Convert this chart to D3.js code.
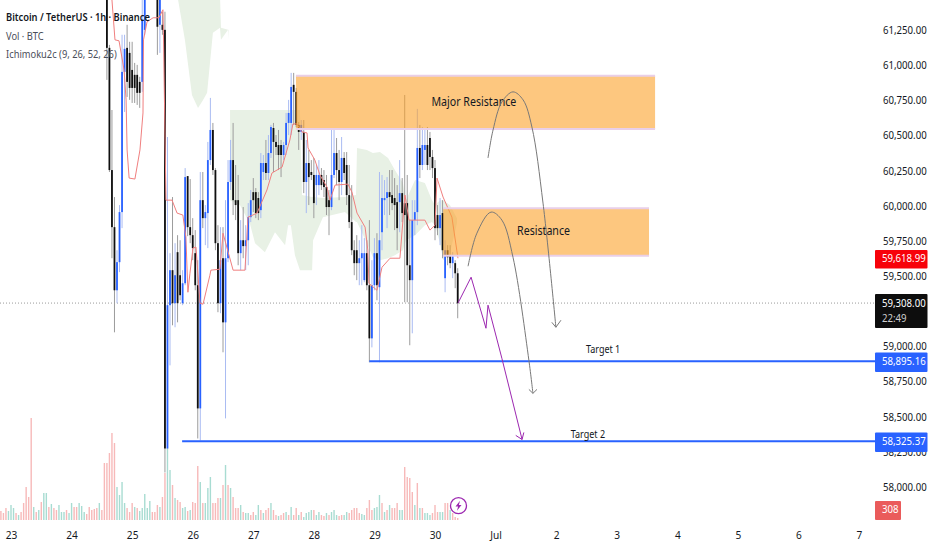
<!DOCTYPE html>
<html>
<head>
<meta charset="utf-8">
<script src="https://cdn.jsdelivr.net/npm/d3@7"></script>
<style>
    html, body { margin: 0; padding: 0; background: #fff; }
    svg { display: block; }
    text { font-family: "Noto Sans", sans-serif; }
</style>
</head>
<body>
<svg id="chart" width="932" height="550"></svg>
<script>
// hours counted from 23 June 00:00, one candle per hour
const firstCandleHour = 38;
const opens = [61607,61123,60254,59848,59399,59599,59955,60952,61123,61087,60966,60931,60931,60881,60881,61251,61821,62000,62177,62000,61679,61287,61287,61251,58274,59293,59542,59307,59670,59506,59307,59449,60211,59848,59791,59663,59435,58559,60040,59912,59948,60325,60539,60254,59734,59307,59627,59171,59627,60169,60325,60040,60040,59663,59755,59713,59755,59919,60097,60097,60055,59969,60240,60304,60233,60375,60553,60454,60432,60432,60361,60432,60589,60589,60860,60810,60575,60525,60525,60169,60304,60240,60219,60147,60147,60219,60183,60133,60040,59991,60219,60375,60254,60169,60340,60290,60076,59884,59684,59684,59592,59627,59471,59663,59435,59057,59435,59663,59421,59812,60040,60055,60097,60076,60055,60026,60026,60090,60019,60019,59577,59471,59898,59955,60411,60290,60397,60432,60482,60347,60268,59934,59841,59948,59485,59684,59649,59592,59592,59520];
const highs = [61679,61144,60681,60062,59684,60005,61216,61216,61287,61166,61166,61016,61002,60917,61465,61964,62050,62250,62300,62100,61892,61607,61380,61380,60489,59663,60062,59734,59791,59755,59542,60268,60211,60190,59912,59827,59613,60240,60240,60005,60454,60767,60589,60268,59862,59848,59848,60040,60325,60468,60589,60290,60219,59898,59991,59862,60019,60112,60197,60126,60097,60375,60361,60468,60503,60575,60589,60503,60539,60468,60454,60660,60753,60945,60945,60838,60596,60610,60610,60468,60397,60325,60340,60290,60325,60268,60254,60219,60112,60553,60539,60482,60397,60489,60382,60382,60290,60147,59755,59791,59755,59862,59770,59755,59898,59613,59770,59805,60240,60219,60183,60204,60254,60254,60197,60147,60325,60197,60788,60219,59898,60040,60040,60689,60575,60560,60539,60560,60525,60397,60325,60005,60055,60040,59755,59720,59720,59670,59613,59556];
const lows = [60895,60240,59627,59100,59307,59528,59841,60667,60774,60753,60731,60731,60717,60696,60810,61216,61750,61950,61950,61650,61073,61087,61216,58103,58274,58865,59150,59136,59171,59328,59293,59435,59784,59734,59613,59399,58345,58331,59841,59720,59699,60290,60219,59684,59243,59236,58958,58488,59599,60112,59934,59898,59577,59542,59627,59542,59577,59884,59955,59912,59898,59912,60183,60183,60183,60340,60240,60361,60254,60204,60325,60361,60503,60503,60575,60560,60397,60468,60090,59948,60005,60183,59912,60005,60076,60112,60062,59934,59791,59969,60197,60147,60040,60076,60183,60005,59841,59649,59506,59471,59435,59435,59456,59399,58887,58993,59399,59328,58887,59684,59934,59841,59934,59969,59827,59684,59812,59884,59314,59314,59008,59093,59791,59862,60197,60254,60290,60254,60254,60197,59755,59791,59720,59627,59385,59577,59556,59485,59414,59200];
const closes = [61123,60254,59848,59399,59599,59955,60952,61116,60881,60838,60838,60838,60803,60803,61323,61821,62000,62177,62000,61700,61273,61465,61251,58274,59293,59542,59307,59506,59307,59364,59449,60204,59848,59791,59699,59435,58559,60040,59912,59955,60325,60539,60254,59734,59307,59613,59171,59627,60169,60325,60040,60005,59663,59755,59713,59755,59919,60040,60040,59948,59948,60304,60304,60233,60375,60560,60454,60418,60361,60361,60432,60589,60660,60845,60810,60575,60525,60575,60169,60304,60204,60219,60019,60219,60219,60147,60133,59991,59991,60219,60375,60254,60169,60340,60233,60076,59884,59684,59592,59592,59627,59663,59663,59435,59057,59435,59663,59435,59755,60055,60055,60097,60062,60019,60005,59841,60090,59948,59934,59577,59471,59898,59955,60411,60290,60432,60432,60290,60347,60268,59841,59841,59934,59684,59684,59634,59592,59649,59520,59307];

// volume per hour, first bar at hour -4, in units of about 150 BTC
const firstVolumeHour = -4;
const volumes = [9,7,12,9,15,12,7,5,8,17,33,23,102,13,8,10,18,27,27,13,16,12,10,15,8,8,10,7,17,13,13,17,14,8,6,13,10,11,12,17,10,57,57,67,87,77,33,25,38,17,12,8,17,13,12,9,12,26,12,19,8,8,15,13,23,47,72,50,35,22,20,18,12,13,9,10,18,17,54,38,17,17,32,43,17,17,22,22,35,55,35,32,23,12,12,15,8,7,7,5,8,5,15,10,7,10,12,17,10,5,4,
    5,7,8,5,13,5,12,5,8,3,7,8,10,10,5,8,5,4,7,5,8,10,5,4,5,5,8,7,10,12,12,7,6,5,12,20,10,12,13,25,17,8,10,15,12,12,17,10,10,53,43,42,28,15,37,12,12,7,7,5,7,15,8,8,8,17,17,10,7,3,2];
const volumeSides = "rrrgggrgrrrrrgrgrggrgrrgggrggrrgggrrrrrgrrrrrrggggrrrgrgggggrrrgrrggrgrrggrgrrrgrgggrrrgrgrgrrrgrggrrggrgrrgrrg" +
    "rrgrgrrgrggggrggrrgrgggrrggrrrrrggrrrgggrgrgrrrggrrrrgrgrgggrrrggrrgrrrr";

// Ichimoku conversion line
const tenkanHours = [40,41.2,42.8,44.8,45.6,46,46.8,49.1,51.1,52.3,52.5,53.9,56.3,58.6,60.2,60.4,61.4,63.8,65.8,68.1,69.3,70.1,70.9,72.1,73.3,74.9,76.1,78.8,79.2,82.8,84,88,92.7,93.9,97.5,101.4,103.4,107.4,110.5,111.7,113.3,115.3,117.3,117.7,120.4,122.4,125.2,126.4,128.4,133.5,135.1,137.1,140.3,141.4,141.8,145,147,150.2,154.1,155.3,156.1,157.7,164,166,168,168.8,171.2,174.7,177.1];
const tenkanPrices = [61465,61180,61173,60966,60753,60397,60197,60190,60397,60660,61180,61308,61337,61337,61394,61230,60040,60040,59948,59934,59777,59385,59520,59699,59706,59307,59300,59506,59542,59549,59805,59542,59542,59919,59948,60112,60233,60275,60468,60582,60582,60525,60518,60411,60325,60219,60133,60040,60147,60154,60097,59948,59848,59684,59449,59399,59563,59627,59627,59898,60076,59898,59898,59827,59862,60197,60062,59919,59627];

// Ichimoku cloud, two separate pieces
const cloudHoursA = [66.2,68.9,71.7,74.1,76.1,77.7,80,82.8,83.2,86,86.2];
const cloudTopA = [61500,61500,61500,61500,61500,61500,61500,61500,61266,61251,61251];
const cloudBottomA = [61465,61180,60788,60696,60753,60803,61230,61266,61180,61251,61180];
const cloudHoursB = [86.8,90.7,94.7,96.7,100.6,104.6,108.6,109.8,110.9,112.5,114.5,115.3,119.3,119.7,123.6,132.3,136.7,137.1,141,143.4,146.2,149.4,152.1,155.3,156.5,160.1,164,166.8,168,170,171.2,173.9,176.7];
const cloudTopB = [60681,60681,60681,60681,60681,60681,60681,60681,60681,60681,60681,60076,60062,60062,60055,60062,60076,60411,60397,60375,60382,60340,60254,60162,60040,60183,60162,60040,60005,60040,60040,60005,59912];
const cloudBottomB = [60040,60005,59870,59734,59670,59812,59720,59862,59862,59649,59542,59542,59542,59755,59919,59955,59884,59884,59734,59634,59613,59627,59649,59684,59755,59791,59862,59884,59862,59734,59613,59663,59876];

// drawings
const zoneNames = ["Major Resistance", "Resistance"];
const zoneStart = [112.9, 171.2];
const zoneEnd = [255.2, 252.8];
const zoneTop = [60924, 59983];
const zoneBottom = [60546, 59645];
const zoneLabelHour = [183.4, 211];
const zoneLabelPrice = [60735, 59815];

const targetNames = ["Target 1", "Target 2"];
const targetStart = [142, 67.8];
const targetPrices = [58895.16, 58325.37];
const targetLabelHour = [234.6, 228.6];
const targetLabelPrice = [58950, 58352];

const arcOneHours = [189,191,194.5,198.9,202.9,206.4,210.8,215.9];
const arcOnePrices = [60340,60539,60738,60810,60753,60560,60019,59136];
const arcOneHeadHours = [214.3,215.9,217.9];
const arcOneHeadPrices = [59171,59136,59186];
const arcTwoHours = [181.1,184.6,190.2,194.5,198.9,205.2,206.8];
const arcTwoPrices = [59570,59805,59955,59898,59634,58901,58666];
const arcTwoHeadHours = [205.2,206.8,208.4];
const arcTwoHeadPrices = [58694,58666,58694];
const pathHours = [177.1,182.3,188.2,189,194.5,202.5];
const pathPrices = [59307,59492,59129,59293,58915,58338];
const pathHeadHours = [200,202.5,203.2];
const pathHeadPrices = [58367,58338,58388];

const dayHours = [0,24,48,72,96,120,144,168,192,216,240,264,288,312,336];
const dayLabels = ["23","24","25","26","27","28","29","30","Jul","2","3","4","5","6","7"];
const priceTicks = [58000,58250,58500,58750,59000,59500,59750,60000,60250,60500,60750,61000,61250];
const lastPrice = 59308;
const redPrice = 59618.99;
const currentVolume = 308;

const colors = {
    up: "#2962ff", down: "#101010", upWick: "#a9bbf2", downWick: "#9c9c9c",
    volUp: "#a8dcd2", volDown: "#f7b9b9", cloud: "#e8f1e5", tenkan: "#f07f7f",
    zone: "#fca22a", zoneEdge: "#e9cfe8", arc: "#787878", path: "#9c27b0", text: "#131722"
};

const svg = d3.select("#chart");
const x = d3.scaleLinear().domain([0, 336]).range([11, 859]);
const y = d3.scaleLinear().domain([58000, 61250]).range([487, 30]);
const yVol = d3.scaleLinear().domain([0, 100]).range([520, 420]);
const plotRight = 875;

// the original type is narrower than anything installed, so squeeze it
function condense(selection, ratio = 0.86) {
    selection.each(function () {
        this.setAttribute("textLength", this.getComputedTextLength() * ratio);
        this.setAttribute("lengthAdjust", "spacingAndGlyphs");
    });
}

const candles = opens.map((o, i) => ({
    hour: firstCandleHour + i, open: o, high: highs[i], low: lows[i], close: closes[i], up: closes[i] >= o
}));
const volumeBars = volumes.map((v, i) => ({ hour: firstVolumeHour + i, value: v, side: volumeSides[i] }));

// cloud
const cloudArea = d3.area().x(d => x(d[0])).y0(d => y(d[1])).y1(d => y(d[2]));
svg.append("path").attr("d", cloudArea(cloudHoursA.map((h, i) => [h, cloudTopA[i], cloudBottomA[i]]))).attr("fill", colors.cloud);
svg.append("path").attr("d", cloudArea(cloudHoursB.map((h, i) => [h, cloudTopB[i], cloudBottomB[i]]))).attr("fill", colors.cloud);

// volume
svg.append("g").selectAll("rect")
    .data(volumeBars)
    .join("rect")
    .attr("x", d => x(d.hour) - 0.7)
    .attr("width", 1.4)
    .attr("y", d => yVol(d.value))
    .attr("height", d => yVol(0) - yVol(d.value))
    .attr("fill", d => d.side === "g" ? colors.volUp : colors.volDown);

// last price line
svg.append("line")
    .attr("x1", 0).attr("x2", plotRight)
    .attr("y1", y(lastPrice)).attr("y2", y(lastPrice))
    .attr("stroke", "#9a9a9a").attr("stroke-dasharray", "1,2");

// candles
svg.append("g").selectAll("line")
    .data(candles)
    .join("line")
    .attr("x1", d => x(d.hour)).attr("x2", d => x(d.hour))
    .attr("y1", d => y(d.high)).attr("y2", d => y(d.low))
    .attr("stroke", d => d.up ? colors.upWick : colors.downWick)
    .attr("stroke-width", 1);

svg.append("g").selectAll("rect")
    .data(candles)
    .join("rect")
    .attr("x", d => x(d.hour) - 0.9)
    .attr("width", 1.8)
    .attr("y", d => y(Math.max(d.open, d.close)))
    .attr("height", d => Math.max(1, Math.abs(y(d.open) - y(d.close))))
    .attr("fill", d => d.up ? colors.up : colors.down);

// conversion line
const straight = d3.line().x(d => x(d[0])).y(d => y(d[1]));
svg.append("path")
    .attr("d", straight(tenkanHours.map((h, i) => [h, tenkanPrices[i]])))
    .attr("fill", "none").attr("stroke", colors.tenkan).attr("stroke-width", 1);

// resistance zones
zoneNames.forEach((name, i) => {
    const g = svg.append("g");
    g.append("rect")
        .attr("x", x(zoneStart[i])).attr("width", x(zoneEnd[i]) - x(zoneStart[i]))
        .attr("y", y(zoneTop[i])).attr("height", y(zoneBottom[i]) - y(zoneTop[i]))
        .attr("fill", colors.zone).attr("fill-opacity", 0.6);
    [zoneTop[i], zoneBottom[i]].forEach(p => {
        g.append("line")
            .attr("x1", x(zoneStart[i])).attr("x2", x(zoneEnd[i]))
            .attr("y1", y(p)).attr("y2", y(p))
            .attr("stroke", colors.zoneEdge).attr("stroke-width", 2);
    });
    g.append("text")
        .attr("x", x(zoneLabelHour[i])).attr("y", y(zoneLabelPrice[i]))
        .attr("text-anchor", "middle").attr("dominant-baseline", "middle")
        .attr("font-size", 12.5).attr("fill", colors.text)
        .text(name)
        .call(condense, 0.85);
});

// target lines
targetPrices.forEach((p, i) => {
    svg.append("line")
        .attr("x1", x(targetStart[i])).attr("x2", plotRight)
        .attr("y1", y(p)).attr("y2", y(p))
        .attr("stroke", colors.up).attr("stroke-width", 2);
    svg.append("text")
        .attr("x", x(targetLabelHour[i])).attr("y", y(targetLabelPrice[i]))
        .attr("text-anchor", "middle").attr("font-size", 11).attr("fill", colors.text)
        .text(targetNames[i])
        .call(condense, 0.82);
});

// hand drawn arrows
const smooth = d3.line().x(d => x(d[0])).y(d => y(d[1])).curve(d3.curveCatmullRom);
function drawPath(hours, prices, gen, color) {
    svg.append("path")
        .attr("d", gen(hours.map((h, i) => [h, prices[i]])))
        .attr("fill", "none").attr("stroke", color).attr("stroke-width", 1);
}
drawPath(arcOneHours, arcOnePrices, smooth, colors.arc);
drawPath(arcOneHeadHours, arcOneHeadPrices, straight, colors.arc);
drawPath(arcTwoHours, arcTwoPrices, smooth, colors.arc);
drawPath(arcTwoHeadHours, arcTwoHeadPrices, straight, colors.arc);
drawPath(pathHours, pathPrices, straight, colors.path);
drawPath(pathHeadHours, pathHeadPrices, straight, colors.path);

// axes
const xAxis = svg.append("g")
    .attr("transform", "translate(0,528)")
    .call(d3.axisBottom(x).tickValues(dayHours).tickSize(0).tickFormat((d, i) => dayLabels[i]));
xAxis.select(".domain").remove();
xAxis.selectAll("text").attr("font-size", 11.5).attr("fill", colors.text).attr("y", 3).call(condense, 0.88);

const yAxis = svg.append("g")
    .attr("transform", "translate(883,0)")
    .call(d3.axisRight(y).tickValues(priceTicks).tickSize(0).tickPadding(0).tickFormat(d3.format(",.2f")));
yAxis.select(".domain").remove();
yAxis.selectAll("text").attr("font-size", 10.7).attr("fill", colors.text).call(condense, 0.9);

// price tags
function priceTag(center, h, fill, label, sub, w = 52.5) {
    const g = svg.append("g");
    g.append("rect").attr("x", 875).attr("y", center - h / 2)
        .attr("width", w).attr("height", h).attr("rx", 1).attr("fill", fill);
    g.append("text").attr("x", 882).attr("y", sub ? center - 7 : center)
        .attr("dominant-baseline", "middle").attr("font-size", 10.7).attr("fill", "#fff").text(label)
        .call(condense, 0.9);
    if (sub) {
        g.append("text").attr("x", 882).attr("y", center + 8)
            .attr("dominant-baseline", "middle").attr("font-size", 10.7).attr("fill", "#cfcfcf").text(sub)
            .call(condense, 0.9);
    }
}
const priceFormat = d3.format(",.2f");
priceTag(y(redPrice), 18.5, "#f7020a", priceFormat(redPrice));
priceTag(y(lastPrice) + 8, 34, "#0d0d0d", priceFormat(lastPrice), "22:49");
priceTag(y(targetPrices[0]) + 1, 19.5, colors.up, priceFormat(targetPrices[0]));
priceTag(y(targetPrices[1]) + 1, 19.5, colors.up, priceFormat(targetPrices[1]));
priceTag(yVol(0) - 9.5, 19, "#ea5b5b", String(currentVolume), null, 26);

// lightning badge
const badge = svg.append("g").attr("transform", "translate(458.5,505.7)");
badge.append("circle").attr("r", 8).attr("fill", "#fff").attr("stroke", colors.path).attr("stroke-width", 1.3);
badge.append("path").attr("d", "M1.5,-5 L-3,0.8 L-0.4,0.8 L-1.5,5 L3,-0.8 L0.4,-0.8 Z").attr("fill", colors.path);

// legend
const legendLines = ["Bitcoin / TetherUS · 1h · Binance", "Vol · BTC", "Ichimoku2c (9, 26, 52, 26)"];
svg.append("g").selectAll("text")
    .data(legendLines)
    .join("text")
    .attr("x", 6)
    .attr("y", (d, i) => 21 + i * 18.5)
    .attr("font-size", 11.5)
    .attr("font-weight", (d, i) => i === 0 ? 600 : 400)
    .attr("fill", (d, i) => i === 0 ? colors.text : "#4a4e59")
    .text(d => d)
    .call(condense, 0.81);
</script>
</body>
</html>
